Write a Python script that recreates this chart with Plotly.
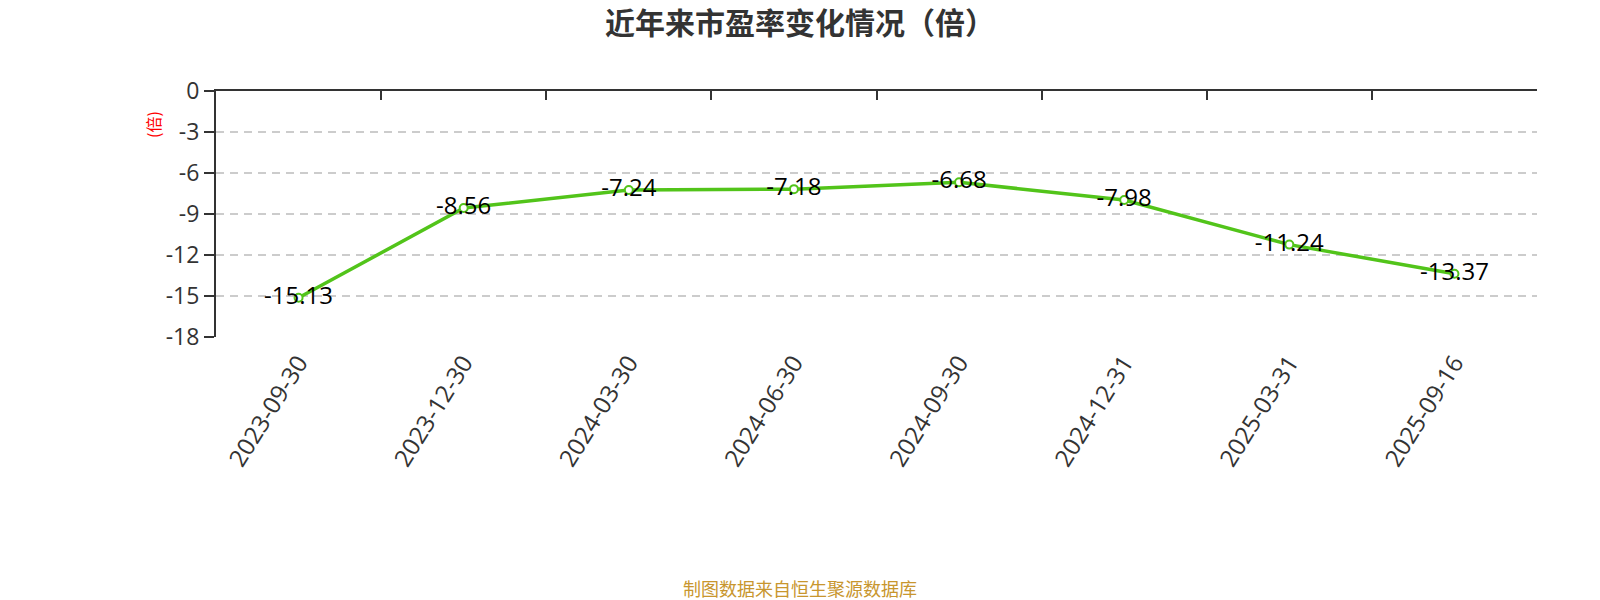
import plotly.graph_objects as go

dates = ["2023-09-30", "2023-12-30", "2024-03-30", "2024-06-30",
         "2024-09-30", "2024-12-31", "2025-03-31", "2025-09-16"]
pe_values = [-15.13, -8.56, -7.24, -7.18, -6.68, -7.98, -11.24, -13.37]
value_labels = [f"{v:.2f}" for v in pe_values]
y_ticks = [0, -3, -6, -9, -12, -15, -18]
y_tick_text = [str(v) for v in y_ticks]

title_text = "近年来市盈率变化情况（倍）"
y_name = "(倍)"
footer_text = "制图数据来自恒生聚源数据库"

W, H = 1600, 600
ML, MR, MT, MB = 216, 63, 91, 263
PW = W - ML - MR
PH = H - MT - MB

GREEN = "#52c41a"
FONT = "Open Sans, Noto Sans CJK SC, sans-serif"
CJK = "Noto Sans CJK SC, sans-serif"

fig = go.Figure()
fig.add_trace(go.Scatter(
    x=dates, y=pe_values, mode="lines+markers+text",
    text=value_labels, textposition="middle center",
    textfont=dict(size=24, color="#000000", family=FONT),
    line=dict(color=GREEN, width=3.5),
    marker=dict(size=8, color="white", line=dict(color=GREEN, width=2)),
    showlegend=False, cliponaxis=False,
))
fig.add_trace(go.Scatter(
    x=dates, y=pe_values, xaxis="x2", mode="markers",
    marker=dict(opacity=0), hoverinfo="skip", showlegend=False,
))

def px_to_paper_y(py):
    return (H - MB - py) / PH

def px_to_paper_x(px):
    return (px - ML) / PW

fig.update_layout(
    width=W, height=H,
    margin=dict(l=ML, r=MR, t=MT, b=MB),
    plot_bgcolor="white", paper_bgcolor="white",
    title=dict(text=title_text, x=0.5, xanchor="center",
               y=1 - 23 / H, yanchor="middle",
               font=dict(size=30, color="#333333", family=CJK, weight="bold")),
    xaxis=dict(type="category", categoryorder="array", categoryarray=dates,
               range=[-0.5, len(dates) - 0.5],
               showline=False, ticks="", showgrid=False, zeroline=False,
               tickangle=-58, ticklabelstandoff=6,
               tickfont=dict(size=24, color="#333333", family=FONT)),
    xaxis2=dict(type="category", categoryorder="array", categoryarray=dates,
                overlaying="x", side="top", anchor="y", matches="x",
                showline=True, linecolor="#333333", linewidth=2,
                ticks="inside", tickson="boundaries", ticklen=9,
                tickwidth=2, tickcolor="#333333",
                showticklabels=False, showgrid=False, zeroline=False),
    yaxis=dict(range=[-18, 0], tickvals=y_ticks, ticktext=y_tick_text,
               showline=True, linecolor="#333333", linewidth=2,
               ticks="outside", ticklen=10, tickwidth=2, tickcolor="#333333",
               showgrid=True, gridcolor="#cccccc", griddash="8px,6px",
               gridwidth=1.5, zeroline=False,
               tickfont=dict(size=23, color="#333333", family=FONT)),
    annotations=[
        dict(text=y_name, xref="paper", yref="paper",
             x=px_to_paper_x(153), y=px_to_paper_y(125),
             xanchor="center", yanchor="middle", textangle=-90,
             showarrow=False, font=dict(size=16, color="red", family=CJK)),
        dict(text=footer_text, xref="paper", yref="paper",
             x=px_to_paper_x(W / 2), y=px_to_paper_y(588),
             xanchor="center", yanchor="middle", showarrow=False,
             font=dict(size=18, color="#c8962e", family=CJK)),
    ],
)

fig.write_html(
    "out.html",
    config={"displayModeBar": False},
    post_script="document.body.style.margin='0';document.body.style.overflow='hidden';",
)
